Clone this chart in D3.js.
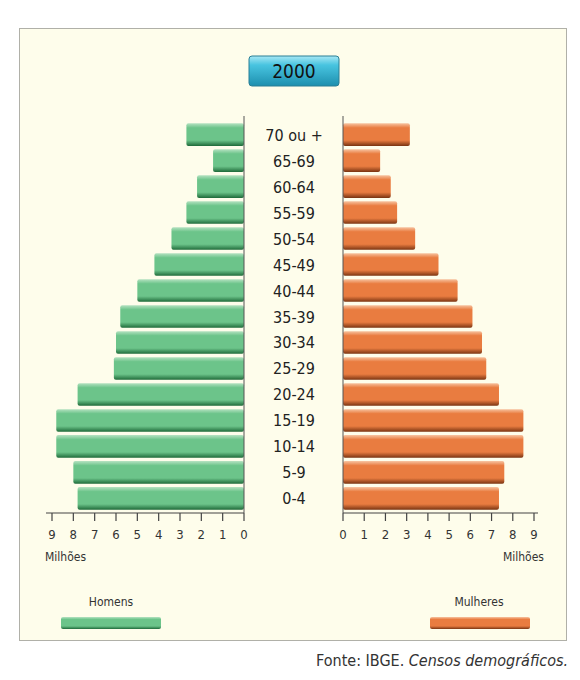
<!DOCTYPE html>
<html><head><meta charset="utf-8">
<script src="https://cdn.jsdelivr.net/npm/d3@7"></script>
<style>body{margin:0;background:#fff}text{font-family:"Liberation Sans Narrow","DejaVu Sans Condensed",sans-serif}</style>
</head><body><svg id="c" width="580" height="680"></svg>
<script>
const ageGroups = ["70 ou +","65-69","60-64","55-59","50-54","45-49","40-44","35-39","30-34","25-29","20-24","15-19","10-14","5-9","0-4"];
const homens   = [2.7,1.45,2.2,2.7,3.4,4.2,5.0,5.8,6.0,6.1,7.8,8.8,8.8,8.0,7.8];
const mulheres = [3.15,1.75,2.25,2.55,3.4,4.5,5.4,6.1,6.55,6.75,7.35,8.5,8.5,7.6,7.35];
const ticks = [0,1,2,3,4,5,6,7,8,9];
const title = "2000";

const svg = d3.select("#c");
const defs = svg.append("defs");
function grad(id, stops){
  const g = defs.append("linearGradient").attr("id",id).attr("x1",0).attr("y1",0).attr("x2",0).attr("y2",1);
  stops.forEach(s=>g.append("stop").attr("offset",s[0]).attr("stop-color",s[1]));
}
grad("gG",[[0,"#b5e2c1"],[0.2,"#6cc48a"],[0.75,"#6cc48a"],[1,"#1f6b3a"]]);
grad("gO",[[0,"#f7c3a0"],[0.2,"#e97c40"],[0.75,"#e97c40"],[1,"#7a3412"]]);
grad("gT",[[0,"#a8e8f5"],[0.3,"#48c4e0"],[1,"#1d8fae"]]);

svg.append("rect").attr("x",19.5).attr("y",28.5).attr("width",547).attr("height",612).attr("fill","#fefdeb").attr("stroke","#b0b0a8");
svg.append("rect").attr("x",249).attr("y",56).attr("width",90).attr("height",30).attr("rx",3).attr("fill","url(#gT)").attr("stroke","#2a7f95");
svg.append("text").attr("x",294).attr("y",78).attr("text-anchor","middle").attr("font-size",19).attr("fill","#111").text(title);

const y = d3.scaleBand().domain(ageGroups).range([122,511]).paddingInner(0.13).paddingOuter(0.05);
const xL = d3.scaleLinear().domain([0,9]).range([244,52]);
const xR = d3.scaleLinear().domain([0,9]).range([343,534]);

svg.selectAll(".bl").data(homens).join("rect")
  .attr("x",d=>xL(d)).attr("y",(d,i)=>y(ageGroups[i])).attr("width",d=>xL(0)-xL(d)).attr("height",y.bandwidth())
  .attr("rx",2).attr("fill","url(#gG)");
svg.selectAll(".br").data(mulheres).join("rect")
  .attr("x",xR(0)).attr("y",(d,i)=>y(ageGroups[i])).attr("width",d=>xR(d)-xR(0)).attr("height",y.bandwidth())
  .attr("rx",2).attr("fill","url(#gO)");

svg.selectAll(".lab").data(ageGroups).join("text")
  .attr("x",294).attr("y",d=>y(d)+y.bandwidth()/2+6).attr("text-anchor","middle").attr("font-size",16).attr("fill","#222").text(d=>d);

// vertical baselines
svg.append("line").attr("x1",244).attr("x2",244).attr("y1",116).attr("y2",513).attr("stroke","#555");
svg.append("line").attr("x1",343).attr("x2",343).attr("y1",116).attr("y2",513).attr("stroke","#555");

function axis(sc, xr){
  const g = svg.append("g").attr("transform","translate(0,513)");
  g.append("line").attr("x1",Math.min(...xr)).attr("x2",Math.max(...xr)).attr("stroke","#444").attr("stroke-width",1.2);
  g.selectAll("line.t").data(ticks).join("line").attr("class","t").attr("x1",d=>sc(d)).attr("x2",d=>sc(d)).attr("y1",0).attr("y2",8).attr("stroke","#444").attr("stroke-width",1.2);
  g.selectAll("text").data(ticks).join("text").attr("x",d=>sc(d)).attr("y",26).attr("text-anchor","middle").attr("font-size",13).attr("fill","#333").text(d=>d);
}
axis(xL,[46,244]); axis(xR,[343,538]);
svg.append("text").attr("x",45).attr("y",561).attr("font-size",12).attr("fill","#333").text("Milhões");
svg.append("text").attr("x",544).attr("y",561).attr("text-anchor","end").attr("font-size",12).attr("fill","#333").text("Milhões");

svg.append("text").attr("x",111).attr("y",606).attr("text-anchor","middle").attr("font-size",12).attr("fill","#333").text("Homens");
svg.append("text").attr("x",479).attr("y",606).attr("text-anchor","middle").attr("font-size",12).attr("fill","#333").text("Mulheres");
svg.append("rect").attr("x",61).attr("y",617).attr("width",100).attr("height",12).attr("rx",2).attr("fill","url(#gG)");
svg.append("rect").attr("x",430).attr("y",617).attr("width",100).attr("height",12).attr("rx",2).attr("fill","url(#gO)");

const f = svg.append("text").attr("x",568).attr("y",666).attr("text-anchor","end").attr("font-size",16).attr("fill","#333");
f.append("tspan").text("Fonte: IBGE. ");
f.append("tspan").attr("font-style","italic").text("Censos demográficos.");
</script></body></html>
